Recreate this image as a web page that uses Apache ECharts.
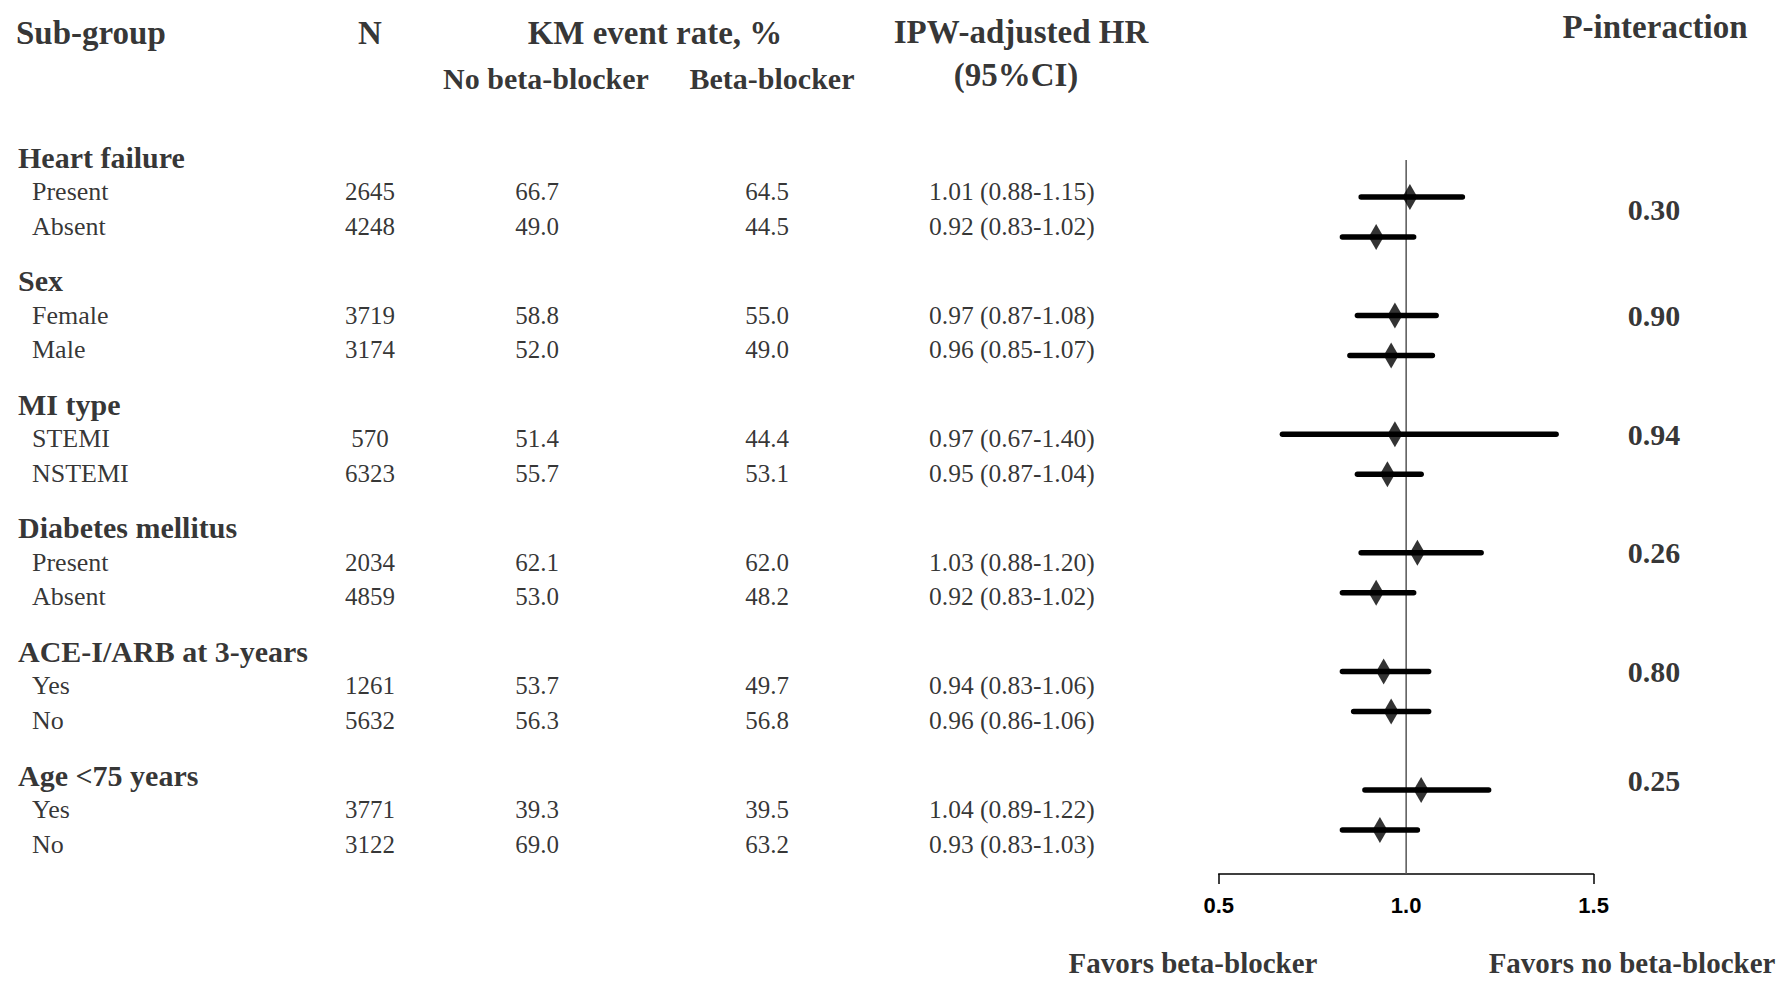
<!DOCTYPE html>
<html><head><meta charset="utf-8">
<script src="https://cdn.jsdelivr.net/npm/echarts@6/dist/echarts.min.js"></script>
<style>html,body{margin:0;padding:0;background:#fff}#c{width:1784px;height:983px}</style>
</head><body><div id="c"></div>
<script>
// ---------------- data ----------------
const groups = ['Heart failure', 'Sex', 'MI type', 'Diabetes mellitus', 'ACE-I/ARB at 3-years', 'Age <75 years'];
const subLabels = ['Present', 'Absent', 'Female', 'Male', 'STEMI', 'NSTEMI', 'Present', 'Absent', 'Yes', 'No', 'Yes', 'No'];
const nValues = [2645, 4248, 3719, 3174, 570, 6323, 2034, 4859, 1261, 5632, 3771, 3122];
const kmNoBB = [66.7, 49.0, 58.8, 52.0, 51.4, 55.7, 62.1, 53.0, 53.7, 56.3, 39.3, 69.0];
const kmBB = [64.5, 44.5, 55.0, 49.0, 44.4, 53.1, 62.0, 48.2, 49.7, 56.8, 39.5, 63.2];
const hr = [1.01, 0.92, 0.97, 0.96, 0.97, 0.95, 1.03, 0.92, 0.94, 0.96, 1.04, 0.93];
const ciLow = [0.88, 0.83, 0.87, 0.85, 0.67, 0.87, 0.88, 0.83, 0.83, 0.86, 0.89, 0.83];
const ciHigh = [1.15, 1.02, 1.08, 1.07, 1.40, 1.04, 1.20, 1.02, 1.06, 1.06, 1.22, 1.03];
const pInteraction = ['0.30', '0.90', '0.94', '0.26', '0.80', '0.25'];
const axisTicks = [0.5, 1.0, 1.5];
const refValue = 1.0;
const footerLabels = ['Favors beta-blocker', 'Favors no beta-blocker'];

// ---------------- layout ----------------
const W = 1784, H = 983;
const SERIF = '"Liberation Serif","Times New Roman",serif';
const NARROW = '"Liberation Sans Narrow","Arial Narrow","Liberation Sans",sans-serif';
const TABLE_HEAD_Y = 157, TABLE_GROUP_STEP = 123.6, TABLE_ROW_STEP = 34.5;
const FOREST_TOP = 160, FOREST_BOTTOM = 874;
const FOREST_Y0 = 197, FOREST_GROUP_STEP = 118.6, FOREST_ROW_STEP = 40;
const P_SHIFT = [12, 0, 0, 0, 0, -10];   // vertical nudge of each p-value label (px)
const AX_LEFT = 1218.7, AX_RIGHT = 1593.6;
const COL = { group: 18, label: 32, n: 370, noBB: 537, bb: 767, hr: 929, p: 1654 };

const tableRowY = i => TABLE_HEAD_Y + Math.floor(i / 2) * TABLE_GROUP_STEP + (i % 2 + 1) * TABLE_ROW_STEP;
const groupY = g => TABLE_HEAD_Y + g * TABLE_GROUP_STEP;
const forestRowY = i => FOREST_Y0 + Math.floor(i / 2) * FOREST_GROUP_STEP + (i % 2) * FOREST_ROW_STEP;

function textSeries(items, size, weight, align) {
  return {
    type: 'scatter', xAxisIndex: 0, yAxisIndex: 0, symbolSize: 0, silent: true, z: 5,
    data: items.map(it => ({ name: it[2], value: [it[0], it[1]] })),
    label: {
      show: true, position: [0, 0], align: align, verticalAlign: 'middle',
      formatter: p => p.name, color: '#000', fontFamily: SERIF, fontSize: size, fontWeight: weight
    },
    emphasis: { disabled: true }
  };
}

const hrText = hr.map((v, i) => v.toFixed(2) + ' (' + ciLow[i].toFixed(2) + '-' + ciHigh[i].toFixed(2) + ')');

const series = [
  textSeries([[16, 33, 'Sub-group']], 33, 'bold', 'left'),
  textSeries([[370, 33, 'N'], [655, 33, 'KM event rate, %'],
              [1021, 32, 'IPW-adjusted HR'], [1016, 75, '(95%CI)'], [1655, 27, 'P-interaction']], 33, 'bold', 'center'),
  textSeries([[546, 78, 'No beta-blocker'], [772, 78, 'Beta-blocker']], 30, 'bold', 'center'),
  textSeries(groups.map((g, i) => [COL.group, groupY(i), g]), 30, 'bold', 'left'),
  textSeries(subLabels.map((s, i) => [COL.label, tableRowY(i), s]), 26, 'normal', 'left'),
  textSeries(nValues.map((v, i) => [COL.n, tableRowY(i), String(v)]), 25, 'normal', 'center'),
  textSeries(kmNoBB.map((v, i) => [COL.noBB, tableRowY(i), v.toFixed(1)]), 25, 'normal', 'center'),
  textSeries(kmBB.map((v, i) => [COL.bb, tableRowY(i), v.toFixed(1)]), 25, 'normal', 'center'),
  textSeries(hrText.map((t, i) => [COL.hr, tableRowY(i), t]), 25.5, 'normal', 'left'),
  textSeries(pInteraction.map((p, g) => [COL.p, forestRowY(g * 2) + P_SHIFT[g], p]), 30, 'bold', 'center'),
  textSeries([[1193, 963, footerLabels[0]], [1632, 963, footerLabels[1]]], 29, 'bold', 'center'),
  // reference line at HR = 1
  {
    type: 'line', xAxisIndex: 1, yAxisIndex: 1, symbol: 'none', silent: true, z: 1,
    data: [[refValue, FOREST_TOP], [refValue, FOREST_BOTTOM]],
    lineStyle: { color: '#555', width: 1.5 }
  },
  // CI bars
  {
    type: 'custom', xAxisIndex: 1, yAxisIndex: 1, silent: true, z: 2,
    data: hr.map((v, i) => [ciLow[i], ciHigh[i], forestRowY(i)]),
    encode: { x: [0, 1], y: 2 },
    renderItem: (params, api) => {
      const a = api.coord([api.value(0), api.value(2)]);
      const b = api.coord([api.value(1), api.value(2)]);
      return { type: 'line', shape: { x1: a[0], y1: a[1], x2: b[0], y2: b[1] },
               style: { stroke: '#000', lineWidth: 5.5, lineCap: 'round' } };
    }
  },
  // point estimates
  {
    type: 'scatter', xAxisIndex: 1, yAxisIndex: 1, silent: true, z: 3,
    symbol: 'diamond', symbolSize: [15, 26],
    data: hr.map((v, i) => [v, forestRowY(i)]),
    itemStyle: { color: '#000' }
  }
];

const option = {
  animation: false,
  backgroundColor: '#fff',
  grid: [
    { left: 0, right: 0, top: 0, bottom: 0 },
    { left: AX_LEFT, right: W - AX_RIGHT, top: FOREST_TOP, bottom: H - FOREST_BOTTOM }
  ],
  xAxis: [
    { gridIndex: 0, type: 'value', min: 0, max: W, show: false },
    {
      gridIndex: 1, type: 'value', min: axisTicks[0], max: axisTicks[axisTicks.length - 1], interval: 0.5,
      axisLine: { show: true, onZero: false, lineStyle: { color: '#000', width: 1.5 } },
      axisTick: { show: true, length: 10, customValues: [axisTicks[0], axisTicks[axisTicks.length - 1]],
                  lineStyle: { color: '#000', width: 1.5 } },
      axisLabel: { customValues: axisTicks, formatter: v => Number(v).toFixed(1), margin: 20,
                   color: '#000', fontFamily: NARROW, fontWeight: 'bold', fontSize: 22 },
      splitLine: { show: false }
    }
  ],
  yAxis: [
    { gridIndex: 0, type: 'value', min: 0, max: H, inverse: true, show: false },
    { gridIndex: 1, type: 'value', min: FOREST_TOP, max: FOREST_BOTTOM, inverse: true, show: false }
  ],
  series: series
};

const chart = echarts.init(document.getElementById('c'), null, { renderer: 'svg' });
chart.setOption(option);
</script>
</body></html>
